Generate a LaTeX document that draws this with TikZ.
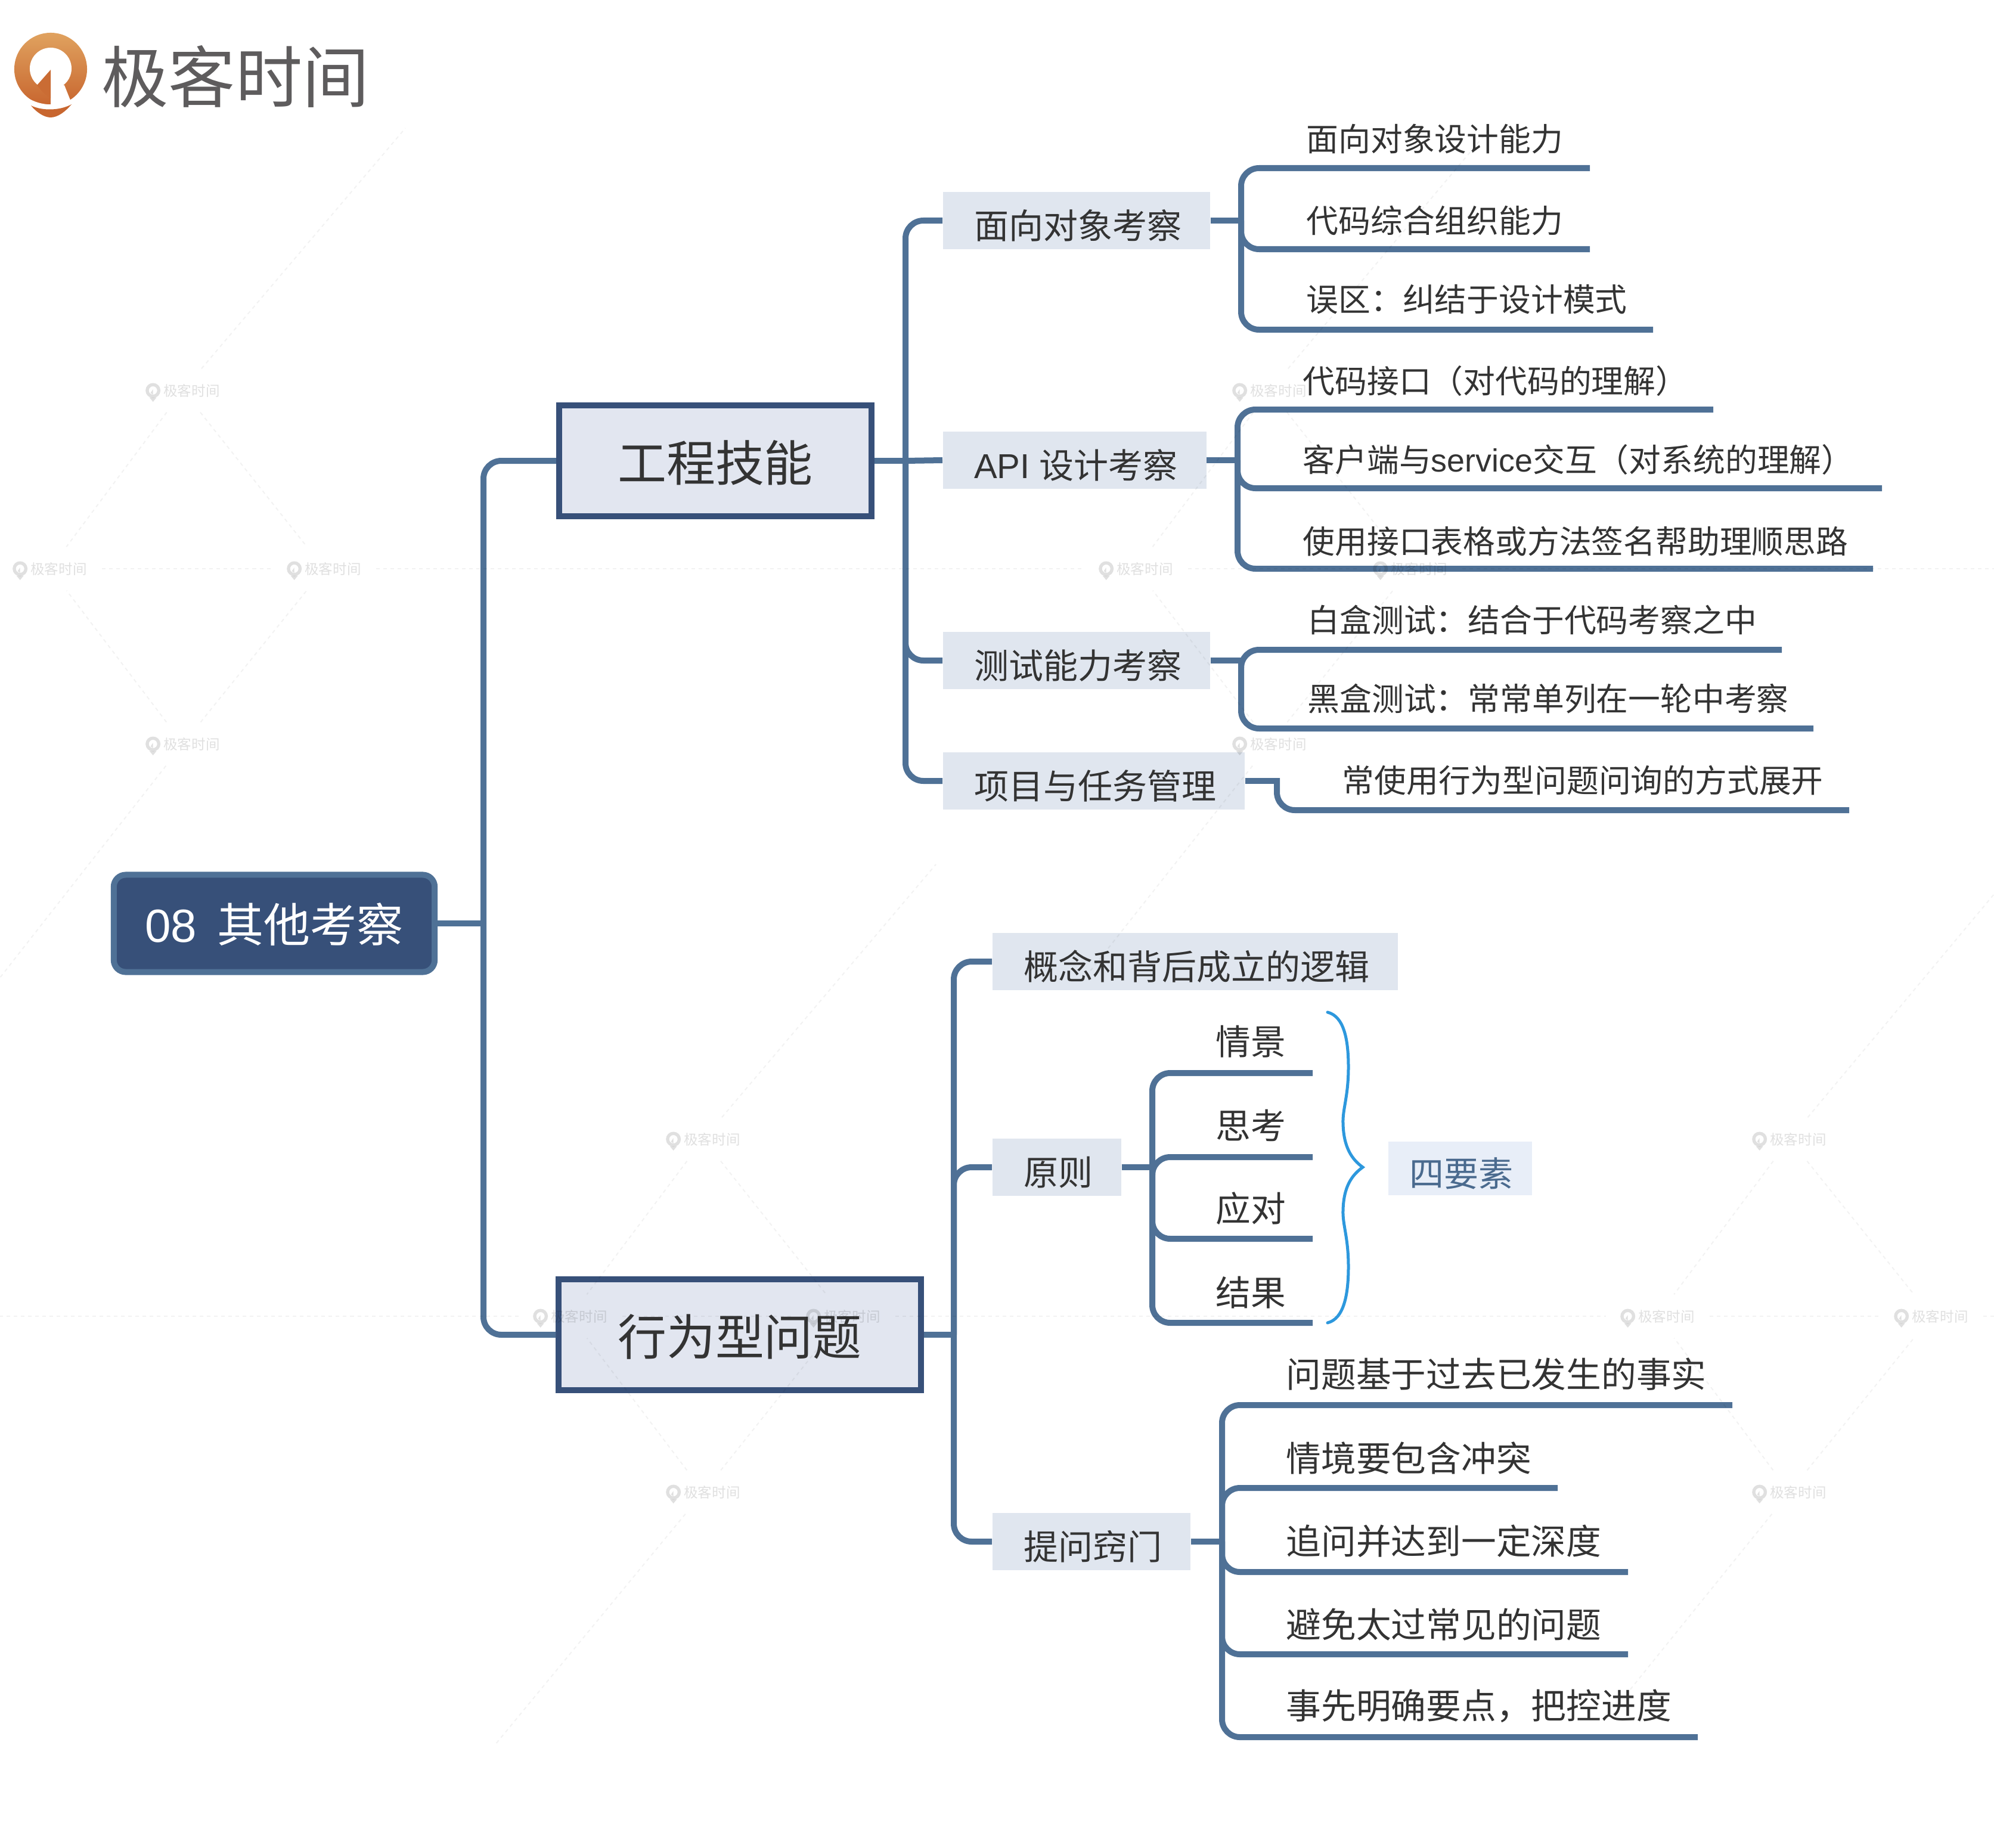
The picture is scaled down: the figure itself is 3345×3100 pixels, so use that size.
\documentclass[tikz,border=0pt]{standalone}
\usepackage{fontspec}
\setmainfont{Noto Sans CJK SC}
\newfontfamily\latinfont{Liberation Sans}
\definecolor{branchblue}{HTML}{4F7196}
\definecolor{rootfill}{HTML}{375079}
\definecolor{topicfill}{HTML}{E2E6F0}
\definecolor{subfill}{HTML}{E0E6EF}
\definecolor{notefill}{HTML}{E8EEF8}
\definecolor{notetext}{HTML}{4A6A8E}
\definecolor{bracecol}{HTML}{2D98DD}
\definecolor{inktext}{HTML}{333333}
\definecolor{logotext}{HTML}{5E5C5D}
\definecolor{logotop}{HTML}{E0A25F}
\definecolor{logobot}{HTML}{C8662F}
\newcommand{\wmark}[3]{%
  \node[wmtext] (#1) at (#2,#3) {\hspace*{0.29cm}极客时间};
  \pic at ([xshift=0.37cm]#1.west) {wmpin};}

\begin{document}
\begin{tikzpicture}[x=0.01cm,y=-0.01cm]
\tikzset{
  rootnode/.style={draw=branchblue,fill=rootfill,line width=1mm,rounded corners=2mm,minimum width=5.38cm,minimum height=1.63cm,inner sep=0pt,text height=0.72cm,text depth=0.09cm,text=white,font=\fontsize{22.2}{26}\selectfont},
  topicnode/.style={draw=rootfill,fill=topicfill,line width=1mm,minimum height=1.86cm,inner sep=0pt,text height=0.78cm,text depth=0.1cm,text=inktext,font=\fontsize{23.3}{28}\selectfont},
  subnode/.style={fill=subfill,anchor=west,inner xsep=0.475cm,inner ysep=0pt,minimum height=0.96cm,text height=0.68cm,text depth=0.07cm,text=inktext,font=\fontsize{16.5}{20}\selectfont,execute at begin node=\hspace*{0.05cm}},
  notenode/.style={fill=notefill,anchor=west,inner xsep=0.31cm,inner ysep=0pt,minimum height=0.89cm,text height=0.68cm,text depth=0.07cm,text=notetext,font=\fontsize{16.5}{20}\selectfont,execute at begin node=\hspace*{0.05cm}},
  leafsmall/.style={anchor=west,inner sep=0pt,text=inktext,font=\fontsize{15.3}{18}\selectfont},
  leaflarge/.style={anchor=west,inner sep=0pt,text=inktext,font=\fontsize{16.7}{20}\selectfont},
  branch/.style={draw=branchblue,line width=1mm,rounded corners=3mm},
  bracket/.style={draw=bracecol,line width=0.5mm,line cap=round},
  wmtext/.style={inner sep=0.25cm,text=black,text opacity=0.12,font=\fontsize{6.7}{8}\selectfont},
  wmline/.style={draw=black,draw opacity=0.05,line width=0.2mm,dash pattern=on 0.6mm off 0.6mm},
  wmpin/.pic={
    \fill[black,opacity=0.12,even odd rule] (0,0) circle (0.125cm) (0,0) circle (0.07cm);
    \fill[black,opacity=0.12] (-0.06cm,-0.118cm) -- (0,-0.19cm) -- (0.06cm,-0.118cm) -- cycle;
    \fill[black,opacity=0.12] (0,0.02cm) -- (-0.04cm,-0.04cm) -- (0,-0.07cm) -- cycle;
  }
}
\useasboundingbox (0,0) rectangle (3345,3100);
\shade[top color=logotop,bottom color=logobot] (85,116) circle (0.61cm);
\fill[white] (85,115) circle (0.35cm);
\fill[white] (85,140) -- (108,143) -- (118,168) -- (125,182) -- (85,182) -- cycle;
\fill[logobot!90!logotop] (85,117) -- (62,143) -- (72,155) -- (85,165) -- cycle;
\draw[white,line width=0.07cm] (42,166) .. controls (70,183) and (100,183) .. (128,166);
\fill[logobot] (52,177) .. controls (70,186) and (100,186) .. (120,175) .. controls (110,187) and (97,197) .. (85,197) .. controls (73,197) and (60,187) .. (52,177) -- cycle;
\node[text=logotext,inner sep=0pt,font=\fontsize{31.9}{36}\selectfont] (n_logo) at (395,128) {极客时间};
\node[rootnode] (n_root) at (460,1549) {{\latinfont 08\ \,}其他考察};
\node[topicnode,minimum width=5.24cm] (n_eng) at (1200,773) {工程技能};
\node[topicnode,minimum width=6.07cm] (n_beh) at (1241,2239) {行为型问题};
\node[subnode] (n_oop) at (1581,370) {面向对象考察};
\node[subnode] (n_api) at (1581,772) {{\latinfont API\ }设计考察};
\node[subnode] (n_tst) at (1581,1108) {测试能力考察};
\node[subnode] (n_prj) at (1581,1310) {项目与任务管理};
\node[subnode] (n_cpt) at (1664,1613) {概念和背后成立的逻辑};
\node[subnode] (n_pri) at (1664,1958) {原则};
\node[subnode] (n_ask) at (1664,2586) {提问窍门};
\node[notenode] (n_four) at (2328,1960) {四要素};
\node[leafsmall] (n_oop1) at (2191,233) {面向对象设计能力};
\node[leafsmall] (n_oop2) at (2191,370) {代码综合组织能力};
\node[leafsmall] (n_oop3) at (2191,502) {误区：纠结于设计模式};
\node[leafsmall] (n_api1) at (2185,639) {代码接口（对代码的理解）};
\node[leafsmall] (n_api2) at (2185,771) {客户端与{\latinfont service}交互（对系统的理解）};
\node[leafsmall] (n_api3) at (2185,908) {使用接口表格或方法签名帮助理顺思路};
\node[leafsmall] (n_tst1) at (2193,1040) {白盒测试：结合于代码考察之中};
\node[leafsmall] (n_tst2) at (2193,1172) {黑盒测试：常常单列在一轮中考察};
\node[leafsmall] (n_prj1) at (2251,1309) {常使用行为型问题问询的方式展开};
\node[leaflarge] (n_pri1) at (2039,1747) {情景};
\node[leaflarge] (n_pri2) at (2039,1888) {思考};
\node[leaflarge] (n_pri3) at (2039,2027) {应对};
\node[leaflarge] (n_pri4) at (2039,2168) {结果};
\node[leaflarge] (n_ask1) at (2157,2305) {问题基于过去已发生的事实};
\node[leaflarge] (n_ask2) at (2157,2446) {情境要包含冲突};
\node[leaflarge] (n_ask3) at (2157,2585) {追问并达到一定深度};
\node[leaflarge] (n_ask4) at (2157,2725) {避免太过常见的问题};
\node[leaflarge] (n_ask5) at (2157,2862) {事先明确要点，把控进度};
\coordinate (j_root) at (811,1549);
\coordinate (j_eng) at (1519,773);
\coordinate (j_beh) at (1600,2239);
\coordinate (j_oop) at (2082,370);
\coordinate (j_api) at (2076,772);
\coordinate (j_tst) at (2082,1108);
\coordinate (j_prj) at (2142,1310);
\coordinate (j_pri) at (1933,1958);
\coordinate (j_ask) at (2050,2586);
\coordinate (e_oop1) at (2667,282);
\coordinate (e_oop2) at (2667,418);
\coordinate (e_oop3) at (2773,553);
\coordinate (e_api1) at (2874,687);
\coordinate (e_api2) at (3157,819);
\coordinate (e_api3) at (3142,954);
\coordinate (e_tst1) at (2989,1090);
\coordinate (e_tst2) at (3042,1222);
\coordinate (e_prj1) at (3097,1359);
\coordinate (e_pri1) at (2202,1800);
\coordinate (e_pri2) at (2202,1941);
\coordinate (e_pri3) at (2202,2078);
\coordinate (e_pri4) at (2202,2219);
\coordinate (e_ask1) at (2906,2357);
\coordinate (e_ask2) at (2613,2496);
\coordinate (e_ask3) at (2731,2637);
\coordinate (e_ask4) at (2731,2775);
\coordinate (e_ask5) at (2848,2914);
\draw[branch] (n_root.east) -- (j_root);
\draw[branch] (j_root) |- (n_eng.west);
\draw[branch] (j_root) |- (n_beh.west);
\draw[branch] (n_eng.east) -- (j_eng);
\draw[branch] (j_eng) |- (n_oop.west);
\draw[branch] (j_eng) -- (n_api.west);
\draw[branch] (j_eng) |- (n_tst.west);
\draw[branch] (j_eng) |- (n_prj.west);
\draw[branch] (n_beh.east) -- (j_beh);
\draw[branch] (j_beh) |- (n_cpt.west);
\draw[branch] (j_beh) |- (n_pri.west);
\draw[branch] (j_beh) |- (n_ask.west);
\draw[branch] (n_oop.east) -- (j_oop);
\draw[branch] (j_oop) |- (e_oop1);
\draw[branch] (j_oop) |- (e_oop2);
\draw[branch] (j_oop) |- (e_oop3);
\draw[branch] (n_api.east) -- (j_api);
\draw[branch] (j_api) |- (e_api1);
\draw[branch] (j_api) |- (e_api2);
\draw[branch] (j_api) |- (e_api3);
\draw[branch] (n_tst.east) -- (j_tst);
\draw[branch] (j_tst) |- (e_tst1);
\draw[branch] (j_tst) |- (e_tst2);
\draw[branch] (n_prj.east) -- (j_prj);
\draw[branch,line cap=rect] (j_prj) |- (e_prj1);
\draw[branch] (n_pri.east) -- (j_pri);
\draw[branch] (j_pri) |- (e_pri1);
\draw[branch] (j_pri) |- (e_pri2);
\draw[branch] (j_pri) |- (e_pri3);
\draw[branch] (j_pri) |- (e_pri4);
\draw[branch] (n_ask.east) -- (j_ask);
\draw[branch] (j_ask) |- (e_ask1);
\draw[branch] (j_ask) |- (e_ask2);
\draw[branch] (j_ask) |- (e_ask3);
\draw[branch] (j_ask) |- (e_ask4);
\draw[branch] (j_ask) |- (e_ask5);
\draw[bracket] (2227,1698) .. controls (2255,1705) and (2262,1745) .. (2262,1790) .. controls (2262,1840) and (2252,1860) .. (2253,1885) .. controls (2254,1925) and (2268,1945) .. (2286,1958) .. controls (2268,1971) and (2254,1990) .. (2253,2030) .. controls (2252,2055) and (2262,2075) .. (2262,2125) .. controls (2262,2170) and (2255,2212) .. (2227,2219);
\wmark{w_a1}{307}{655}
\wmark{w_a2}{84}{954}
\wmark{w_a3}{544}{954}
\wmark{w_a4}{307}{1248}
\wmark{w_b1}{2130}{655}
\wmark{w_b2}{1906}{954}
\wmark{w_b3}{2366}{954}
\wmark{w_b4}{2130}{1248}
\wmark{w_c1}{1180}{1911}
\wmark{w_c2}{957}{2208}
\wmark{w_c3}{1415}{2208}
\wmark{w_c4}{1180}{2503}
\wmark{w_d1}{3002}{1911}
\wmark{w_d2}{2781}{2208}
\wmark{w_d3}{3240}{2208}
\wmark{w_d4}{3002}{2503}
\coordinate (f_a1) at (680,215);
\coordinate (f_a4) at (0,1640);
\coordinate (f_b1) at (2500,215);
\coordinate (f_b3) at (3345,954);
\coordinate (f_b4) at (1820,1640);
\coordinate (f_c1) at (1570,1450);
\coordinate (f_c2) at (0,2208);
\coordinate (f_c4) at (832,2925);
\coordinate (f_d1) at (3345,1500);
\coordinate (f_d3) at (3345,2208);
\coordinate (f_d4) at (2730,2840);
\draw[wmline] (w_a1) -- (f_a1);
\draw[wmline] (w_a1) -- (w_a2);
\draw[wmline] (w_a1) -- (w_a3);
\draw[wmline] (w_a4) -- (w_a2);
\draw[wmline] (w_a4) -- (w_a3);
\draw[wmline] (w_a4) -- (f_a4);
\draw[wmline] (w_a2) -- (w_a3);
\draw[wmline] (w_a3) -- (w_b2);
\draw[wmline] (w_b1) -- (f_b1);
\draw[wmline] (w_b1) -- (w_b2);
\draw[wmline] (w_b1) -- (w_b3);
\draw[wmline] (w_b4) -- (w_b2);
\draw[wmline] (w_b4) -- (w_b3);
\draw[wmline] (w_b4) -- (f_b4);
\draw[wmline] (w_b2) -- (w_b3);
\draw[wmline] (w_b3) -- (f_b3);
\draw[wmline] (w_c1) -- (f_c1);
\draw[wmline] (w_c1) -- (w_c2);
\draw[wmline] (w_c1) -- (w_c3);
\draw[wmline] (w_c4) -- (w_c2);
\draw[wmline] (w_c4) -- (w_c3);
\draw[wmline] (w_c4) -- (f_c4);
\draw[wmline] (w_c2) -- (f_c2);
\draw[wmline] (w_c2) -- (w_c3);
\draw[wmline] (w_c3) -- (w_d2);
\draw[wmline] (w_d1) -- (f_d1);
\draw[wmline] (w_d1) -- (w_d2);
\draw[wmline] (w_d1) -- (w_d3);
\draw[wmline] (w_d4) -- (w_d2);
\draw[wmline] (w_d4) -- (w_d3);
\draw[wmline] (w_d4) -- (f_d4);
\draw[wmline] (w_d2) -- (w_d3);
\draw[wmline] (w_d3) -- (f_d3);
\end{tikzpicture}
\end{document}
